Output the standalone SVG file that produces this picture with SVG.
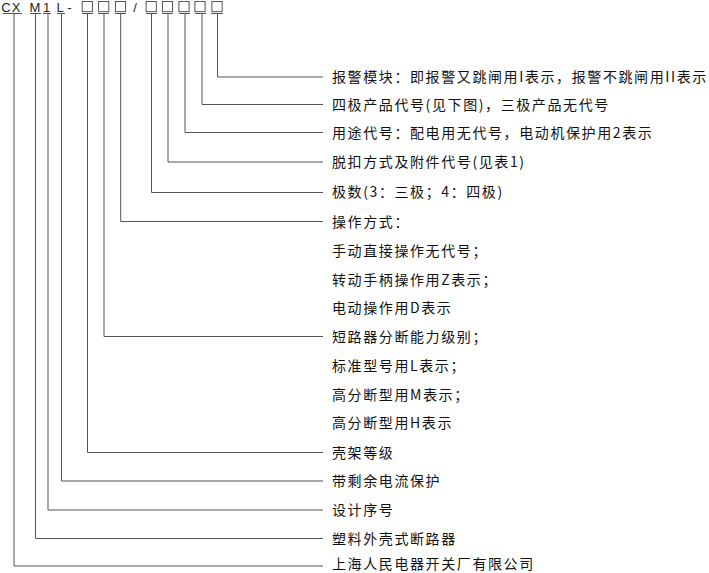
<svg xmlns="http://www.w3.org/2000/svg" width="709" height="573" viewBox="0 0 709 573">
<style>
.hdr{font-family:"Liberation Sans",Arial,sans-serif;font-size:13px;fill:#222;text-anchor:middle}
.box{fill:#fff;stroke:#444;stroke-width:0.9}
.lbl{font-family:"Noto Sans CJK SC","Noto Sans CJK TC",sans-serif;font-size:14px;letter-spacing:1.6px;fill:#111}
.con{fill:none;stroke:#555;stroke-width:1}
</style>
<rect width="709" height="573" fill="#fff"/>
<g id="code">
<text class="hdr" x="6" y="11.8">C</text>
<text class="hdr" x="16" y="11.8">X</text>
<text class="hdr" x="35" y="11.8">M</text>
<text class="hdr" x="46.5" y="11.8">1</text>
<text class="hdr" x="60" y="11.8">L</text>
<text class="hdr" x="69.5" y="11.8">-</text>
<rect class="box" x="82.2" y="1.5" width="10.2" height="10.2"/>
<rect class="box" x="98.6" y="1.5" width="10.2" height="10.2"/>
<rect class="box" x="115.4" y="1.5" width="10.2" height="10.2"/>
<text class="hdr" x="135" y="11.8">/</text>
<rect class="box" x="146.1" y="1.5" width="10.2" height="10.2"/>
<rect class="box" x="162.4" y="1.5" width="10.2" height="10.2"/>
<rect class="box" x="178.9" y="1.5" width="10.2" height="10.2"/>
<rect class="box" x="194.9" y="1.5" width="10.2" height="10.2"/>
<rect class="box" x="211.9" y="1.5" width="10.2" height="10.2"/>
</g>
<g id="connectors">
<path class="con" d="M211,13.5H223M217.5,13.5V77H323"/>
<path class="con" d="M195,13.5H206M202,13.5V104.5H323"/>
<path class="con" d="M179,13.5H190M185,13.5V132.5H323"/>
<path class="con" d="M162,13.5H173M168,13.5V162H323"/>
<path class="con" d="M146,13.5H157M151.5,13.5V192.5H323"/>
<path class="con" d="M115,13.5H126M120.7,13.5V221.5H323"/>
<path class="con" d="M98,13.5H109M104,13.5V336.5H323"/>
<path class="con" d="M82,13.5H93M87.5,13.5V452.5H323"/>
<path class="con" d="M57,13.5H65M61.5,13.5V481H323"/>
<path class="con" d="M43,13.5H51M48,13.5V510H323"/>
<path class="con" d="M30,13.5H41M35.5,13.5V538.5H323"/>
<path class="con" d="M3,13.5H22M14,13.5V566H323"/>
</g>
<g id="alarm-module"><text class="lbl" x="332" y="82">报警模块：即报警又跳闸用I表示，报警不跳闸用II表示</text></g>
<g id="pole-code"><text class="lbl" x="332" y="109.5">四极产品代号(见下图)，三极产品无代号</text></g>
<g id="usage-code"><text class="lbl" x="332" y="137.5">用途代号：配电用无代号，电动机保护用2表示</text></g>
<g id="trip-code"><text class="lbl" x="332" y="167">脱扣方式及附件代号(见表1)</text></g>
<g id="poles"><text class="lbl" x="332" y="197">极数(3：三极；4：四极)</text></g>
<g id="operation">
<text class="lbl" x="332" y="226.5">操作方式：</text>
<text class="lbl" x="332" y="255.5">手动直接操作无代号；</text>
<text class="lbl" x="332" y="284.5">转动手柄操作用Z表示；</text>
<text class="lbl" x="332" y="313">电动操作用D表示</text>
</g>
<g id="breaking-capacity">
<text class="lbl" x="332" y="341.5">短路器分断能力级别；</text>
<text class="lbl" x="332" y="371">标准型号用L表示；</text>
<text class="lbl" x="332" y="399.5">高分断型用M表示；</text>
<text class="lbl" x="332" y="428">高分断型用H表示</text>
</g>
<g id="frame-grade"><text class="lbl" x="332" y="457.5">壳架等级</text></g>
<g id="residual-current"><text class="lbl" x="332" y="486">带剩余电流保护</text></g>
<g id="design-no"><text class="lbl" x="332" y="515">设计序号</text></g>
<g id="mccb"><text class="lbl" x="332" y="543.5">塑料外壳式断路器</text></g>
<g id="manufacturer"><text class="lbl" x="332" y="568.5">上海人民电器开关厂有限公司</text></g>
</svg>
